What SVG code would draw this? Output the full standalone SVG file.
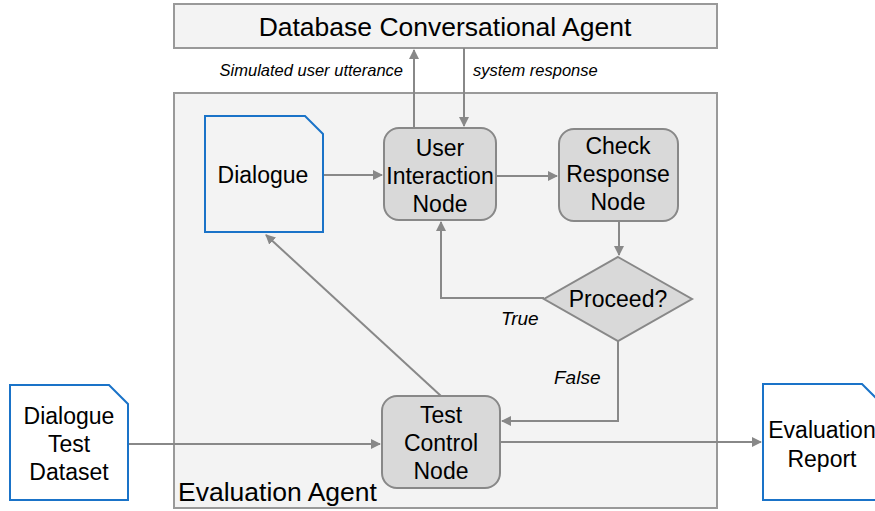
<svg xmlns="http://www.w3.org/2000/svg" width="875" height="511" viewBox="0 0 875 511">
  <style>
    text { font-family: "Liberation Sans", Arial, sans-serif; fill: #000; }
    .title { font-size: 26.5px; }
    .lbl { font-size: 23px; text-anchor: middle; }
    .edge { font-size: 16.5px; font-style: italic; }
    .cond { font-size: 19px; font-style: italic; }
    .frame { fill: #f3f3f3; stroke: #999; stroke-width: 2; }
    .proc { fill: #d9d9d9; stroke: #888; stroke-width: 2; }
    .doc { fill: #ffffff; stroke: #1a73c8; stroke-width: 2; }
    .doc-in { fill: #f3f3f3; stroke: #1a73c8; stroke-width: 2; }
    .conn { fill: none; stroke: #888; stroke-width: 2; }
  </style>
  <defs>
    <marker id="arrow" viewBox="0 0 10 10" refX="9" refY="5" markerWidth="5" markerHeight="5" orient="auto">
      <path d="M0,0 L10,5 L0,10 z" fill="#888"/>
    </marker>
  </defs>

  <rect width="875" height="511" fill="#ffffff"/>

  <!-- external agent -->
  <g id="db-agent">
    <rect class="frame" x="174" y="4" width="543" height="44"/>
    <text class="title" x="445" y="36" text-anchor="middle">Database Conversational Agent</text>
  </g>

  <!-- evaluation agent container -->
  <g id="eval-agent">
    <rect class="frame" x="174" y="93" width="543" height="415"/>
    <text x="178" y="501" font-size="26.5">Evaluation Agent</text>
  </g>

  <g id="connectors">
    <path class="conn" d="M414,128 V50" marker-end="url(#arrow)"/>
    <path class="conn" d="M464,48 V126" marker-end="url(#arrow)"/>
    <path class="conn" d="M323,175 H382" marker-end="url(#arrow)"/>
    <path class="conn" d="M496,176 H557" marker-end="url(#arrow)"/>
    <path class="conn" d="M619,221 V255" marker-end="url(#arrow)"/>
    <path class="conn" d="M544,298 H441 V222" marker-end="url(#arrow)"/>
    <path class="conn" d="M618,341 V421 H502" marker-end="url(#arrow)"/>
    <path class="conn" d="M441,396 L266,235" marker-end="url(#arrow)"/>
    <path class="conn" d="M128,444 H380" marker-end="url(#arrow)"/>
    <path class="conn" d="M500,442 H761" marker-end="url(#arrow)"/>
    <text class="edge" x="403" y="76" text-anchor="end">Simulated user utterance</text>
    <text class="edge" x="473" y="76">system response</text>
    <text class="cond" x="501" y="325">True</text>
    <text class="cond" x="554" y="384">False</text>
  </g>

  <g id="dialogue">
    <path class="doc-in" d="M205,116 H305 L323,134 V232 H205 Z"/>
    <text class="lbl" x="263" y="183">Dialogue</text>
  </g>

  <g id="user-interaction">
    <rect class="proc" x="384" y="128" width="112" height="92" rx="15"/>
    <text class="lbl" x="440" y="156">User</text>
    <text class="lbl" x="440" y="184">Interaction</text>
    <text class="lbl" x="440" y="212">Node</text>
  </g>

  <g id="check-response">
    <rect class="proc" x="559" y="129" width="119" height="92" rx="15"/>
    <text class="lbl" x="618" y="154">Check</text>
    <text class="lbl" x="618" y="182">Response</text>
    <text class="lbl" x="618" y="210">Node</text>
  </g>

  <g id="proceed">
    <path class="proc" d="M618,257 L692,299 L618,341 L544,299 Z"/>
    <text class="lbl" x="618" y="307">Proceed?</text>
  </g>

  <g id="test-control">
    <rect class="proc" x="382" y="396" width="118" height="92" rx="15"/>
    <text class="lbl" x="441" y="423">Test</text>
    <text class="lbl" x="441" y="451">Control</text>
    <text class="lbl" x="441" y="479">Node</text>
  </g>

  <g id="dataset">
    <path class="doc" d="M10,385 H109 L128,404 V500 H10 Z"/>
    <text class="lbl" x="69" y="424">Dialogue</text>
    <text class="lbl" x="69" y="452">Test</text>
    <text class="lbl" x="69" y="480">Dataset</text>
  </g>

  <g id="report">
    <path class="doc" d="M763,384 H862 L881,403 V500 H763 Z"/>
    <text class="lbl" x="822" y="438">Evaluation</text>
    <text class="lbl" x="822" y="467">Report</text>
  </g>
</svg>
